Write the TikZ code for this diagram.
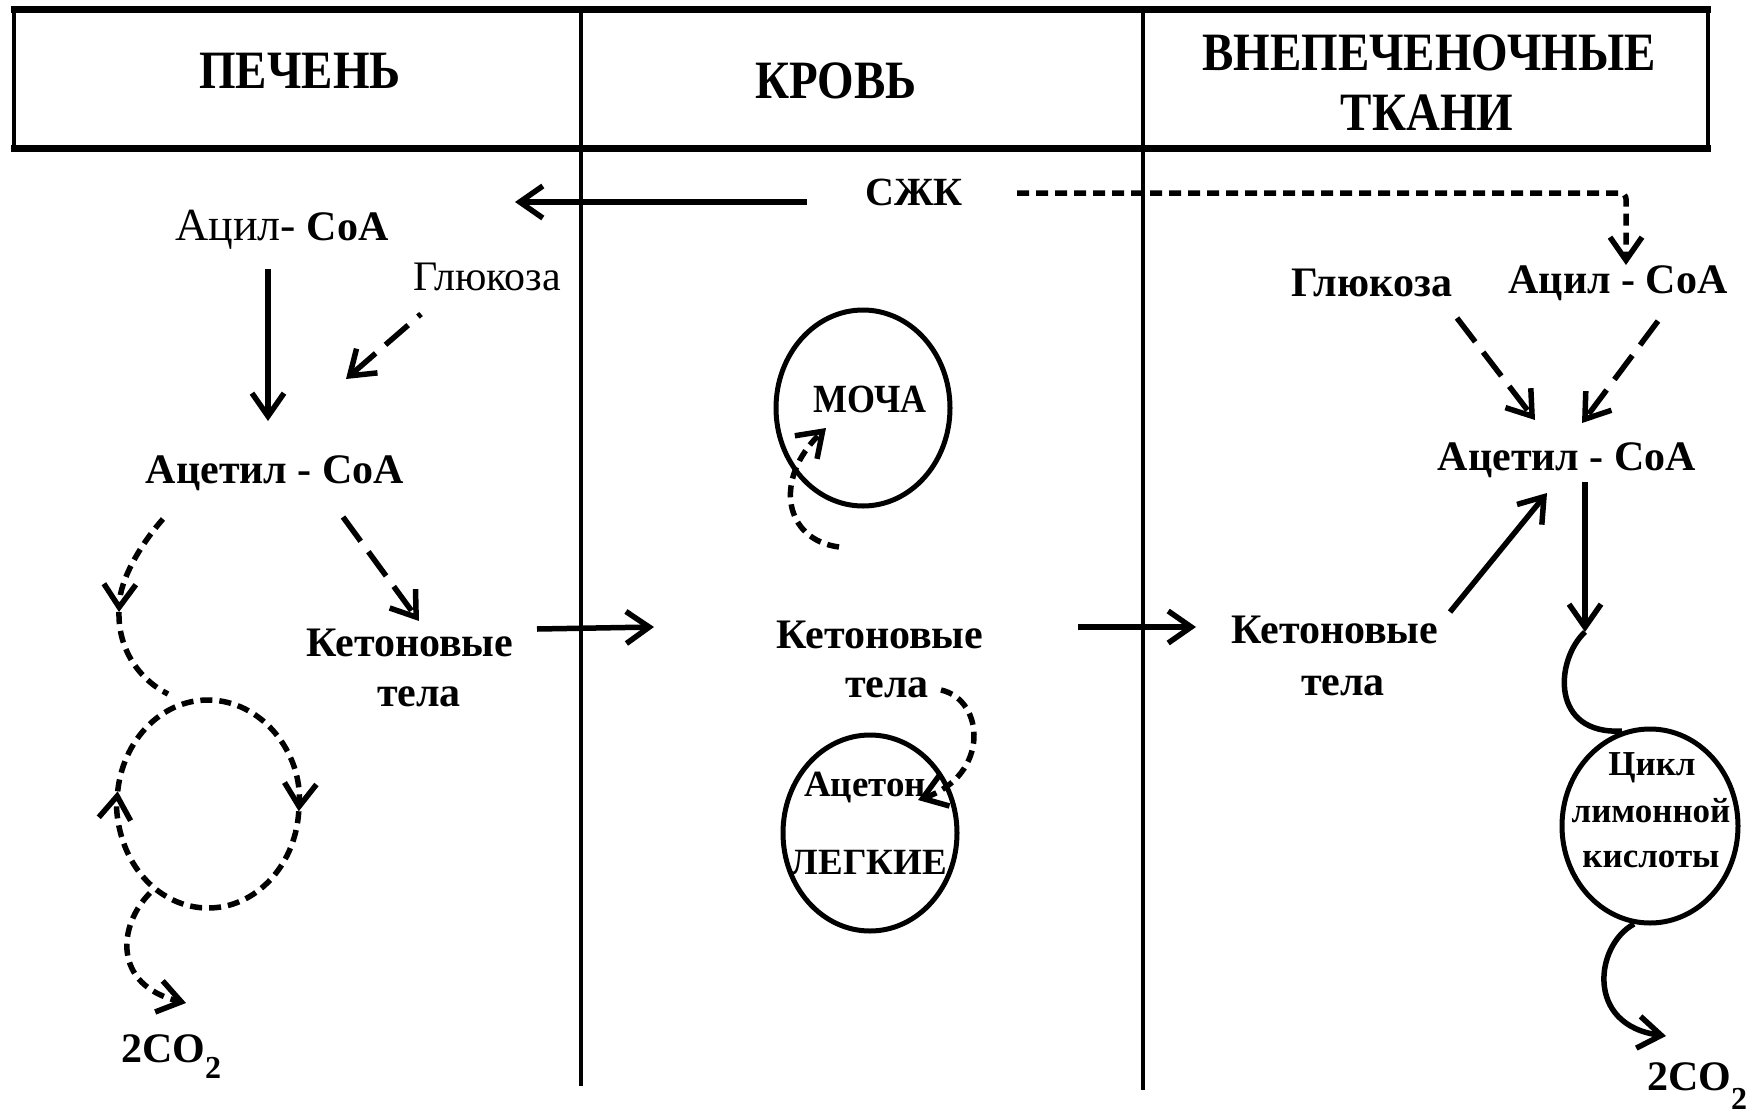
\documentclass[tikz,border=0pt]{standalone}
\usepackage{fontspec}
\setmainfont{Liberation Serif}
\usetikzlibrary{arrows.meta,shapes.geometric,calc}
\begin{document}
\begin{tikzpicture}[x=1pt,y=1pt,
  lbl/.style={inner sep=0pt, anchor=base, font=\fontsize{42}{48}\selectfont\bfseries},
  lblreg/.style={inner sep=0pt, anchor=base, font=\fontsize{42}{48}\selectfont},
  smalllbl/.style={inner sep=0pt, anchor=base, font=\fontsize{37}{42}\selectfont\bfseries},
  cyclbl/.style={inner sep=0pt, anchor=base, font=\fontsize{35}{40}\selectfont\bfseries},
  hdr/.style={inner sep=0pt, anchor=base, font=\fontsize{54}{60}\selectfont\bfseries},
  organ/.style={draw, ellipse, line width=5pt, inner sep=0pt, minimum width=174pt, minimum height=196pt},
  tip/.style={-{Straight Barb[length=23pt,width=32pt]}},
  flow/.style={line width=5.5pt, tip},
  longdash/.style={flow, dash pattern=on 30pt off 13pt},
  shortdash/.style={line width=5.5pt, dash pattern=on 12pt off 7pt},
  shortflow/.style={shortdash, tip},
  wall/.style={line width=4pt},
  band/.style={line width=7pt},
]
\useasboundingbox (0,0) rectangle (1762,-1119);
\fill[white] (0,0) rectangle (1762,-1119);

% header and columns
\draw[wall] (14,-9) rectangle (1708,-148);
\draw[band] (11,-9) -- (1711,-9);
\draw[band] (11,-148) -- (1711,-148);
\draw[wall] (581,-9) -- (581,-1086);
\draw[wall] (1143,-9) -- (1143,-1090);

\node[hdr] (liver) at (300,-88) {\scalebox{0.87}[1]{ПЕЧЕНЬ}};
\node[hdr] (blood) at (836,-98) {\scalebox{0.87}[1]{КРОВЬ}};
\node[hdr] (extra1) at (1429,-70) {\scalebox{0.87}[1]{ВНЕПЕЧЕНОЧНЫЕ}};
\node[hdr] (extra2) at (1427,-130) {\scalebox{0.87}[1]{ТКАНИ}};

% ---------- liver ----------
\node[lbl] (acylL) at (282,-240) {{\fontsize{46}{50}\selectfont\mdseries Ацил-}\ CoA};
\node[lblreg] (glucL) at (487,-290) {Глюкоза};
\node[lbl] (acetylL) at (275,-483) {Ацетил - CoA};
\node[lbl] (ketoL) at (410,-656) {Кетоновые};
\node[lbl] (ketoLb) at (419,-706) {тела};
\node[lbl] (co2L) at (171,-1062) {2CO\raisebox{-16pt}{\fontsize{32}{34}\selectfont 2}};
\coordinate (lc) at (208,-804);

% ---------- blood ----------
\node[lbl, font=\fontsize{40}{46}\selectfont\bfseries] (sjk) at (914,-205) {СЖК};
\node[organ] (urine) at (863,-408) {};
\node[smalllbl] (urinet) at (870,-412) {\scalebox{0.9}[1]{\fontsize{40}{44}\selectfont МОЧА}};
\node[lbl] (ketoM) at (880,-648) {Кетоновые};
\node[lbl] (ketoMb) at (887,-697) {тела};
\node[organ] (lungs) at (870,-833) {};
\node[smalllbl] (acetone) at (865,-796) {Ацетон};
\node[smalllbl] (lungst) at (869,-874) {ЛЕГКИЕ};

% ---------- extrahepatic tissues ----------
\node[lbl] (glucR) at (1372,-296) {Глюкоза};
\node[lbl] (acylR) at (1618,-293) {Ацил - CoA};
\node[lbl] (acetylR) at (1567,-470) {Ацетил - CoA};
\node[lbl] (ketoR) at (1335,-643) {Кетоновые};
\node[lbl] (ketoRb) at (1343,-695) {тела};
\node[organ, minimum width=176pt, minimum height=194pt] (cycle) at (1650,-826) {};
\node[cyclbl] (cyc1) at (1652,-775) {Цикл};
\node[cyclbl] (cyc2) at (1651,-822) {лимонной};
\node[cyclbl] (cyc3) at (1651,-867) {кислоты};
\node[lbl] (co2R) at (1697,-1090) {2CO\raisebox{-19pt}{\fontsize{32}{34}\selectfont 2}};

% ---------- connectors: liver ----------
\draw[flow] ([shift={(-14,-29)}]acylL.base) -- ([shift={(-7,62)}]acetylL.base);
\draw[longdash, dash phase=26pt] ([shift={(-66,-24)}]glucL.base) -- ([shift={(71,104)}]acetylL.base);
\draw[longdash] ([shift={(68,-34)}]acetylL.base) -- ([shift={(9,35)}]ketoL.base);
\draw[flow] ([shift={(127,27)}]ketoL.base) -- ([shift={(-226,21)}]ketoM.base);

\draw[shortflow] ([shift={(-112,-36)}]acetylL.base) .. controls (140,-545) and (120,-580) .. ([shift={(-89,192)}]lc);
\draw[shortdash] ([shift={(-89,192)}]lc) .. controls (118,-650) and (140,-680) .. ([shift={(-40,110)}]lc);
\draw[shortflow] ($(lc)+(173:91 and 104)$) arc[start angle=173, end angle=-4, x radius=91, y radius=104];
\draw[shortflow] ($(lc)+(-4:91 and 104)$) arc[start angle=-4, end angle=-187, x radius=91, y radius=104];
\draw[shortflow] ([shift={(-58,-89)}]lc) .. controls (118,-925) and (112,-985) .. ([shift={(15,59)}]co2L.base);

% ---------- connectors: blood ----------
\draw[flow] ([shift={(-107,3)}]sjk.base) -- ([shift={(233,38)}]acylL.base);
\draw[shortflow, rounded corners=6pt] ([shift={(103,12)}]sjk.base) -| ([shift={(8,28)}]acylR.base);
\draw[shortflow] ([shift={(-24,-139)}]urine.center) .. controls (785,-540) and (772,-480) .. ([shift={(-37,-20)}]urine.center);
\draw[shortflow] ([shift={(54,7)}]ketoMb.base) .. controls (985,-700) and (990,-775) .. ([shift={(53,-4)}]acetone.base);
\draw[flow] ([shift={(198,21)}]ketoM.base) -- ([shift={(-139,16)}]ketoR.base);

% ---------- connectors: tissues ----------
\draw[longdash] ([shift={(85,-22)}]glucR.base) -- ([shift={(-32,50)}]acetylR.base);
\draw[longdash] ([shift={(40,-28)}]acylR.base) -- ([shift={(15,47)}]acetylR.base);
\draw[flow] ([shift={(115,31)}]ketoR.base) -- ([shift={(-20,-23)}]acetylR.base);
\draw[flow] ([shift={(18,-12)}]acetylR.base) -- ([shift={(-65,194)}]cycle.center);
\draw[line width=5.5pt] ([shift={(-65,194)}]cycle.center) .. controls (1555,-660) and (1550,-735) .. ([shift={(-28,95)}]cycle.center);
\draw[flow] ([shift={(-16,-98)}]cycle.center) .. controls (1595,-945) and (1585,-1025) .. ([shift={(-31,54)}]co2R.base);
\end{tikzpicture}
\end{document}
